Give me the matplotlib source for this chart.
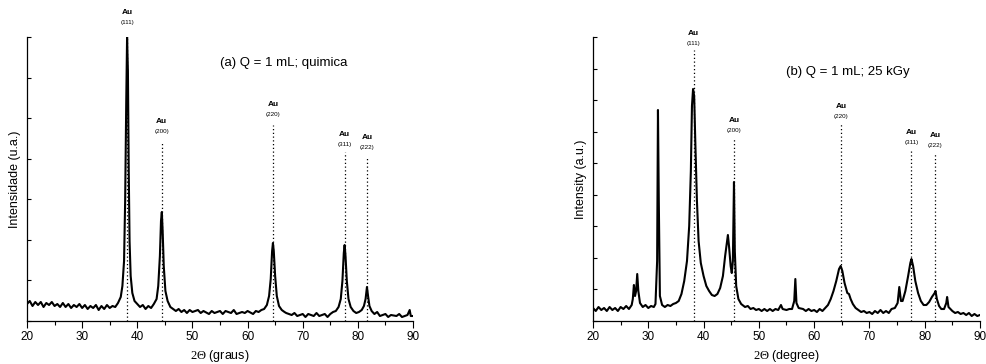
import matplotlib
matplotlib.use("Agg")
import matplotlib.pyplot as plt

plt.rcParams['font.family'] = ['Liberation Sans', 'DejaVu Sans']
plt.rcParams['mathtext.fontset'] = 'custom'
plt.rcParams['mathtext.rm'] = 'Liberation Serif'

# (a) chemical reduction - 2theta (deg) and intensity (a.u.)
x_a = [20, 20.5, 21, 21.5, 22, 22.5, 23, 23.5, 24, 24.5, 25, 25.5, 26, 26.5, 27, 27.5,
       28, 28.5, 29, 29.5, 30, 30.5, 31, 31.5, 32, 32.5, 33, 33.5, 34, 34.5, 35, 35.5,
       36, 36.5, 37, 37.3, 37.6, 37.8, 38.0, 38.15, 38.3, 38.45, 38.6, 38.8, 39.1, 39.5,
       40, 40.5, 41, 41.5, 42, 42.5, 43, 43.5, 43.8, 44.1, 44.3, 44.45, 44.6, 44.8, 45.1,
       45.5, 46, 46.5, 47, 47.5, 48, 48.5, 49, 49.5, 50, 51, 51.5, 52, 53, 53.5, 54, 55,
       55.5, 56, 57, 57.5, 58, 59, 59.5, 60, 61, 61.5, 62, 62.5, 63, 63.5, 63.9, 64.2,
       64.45, 64.6, 64.75, 65.0, 65.3, 65.7, 66.2, 66.7, 67, 68, 68.5, 69, 70, 70.5, 71,
       72, 72.5, 73, 74, 74.5, 75, 75.5, 76, 76.5, 76.9, 77.2, 77.45, 77.6, 77.75, 78.0,
       78.3, 78.7, 79.2, 79.7, 80.2, 80.7, 81.1, 81.4, 81.65, 81.85, 82.1, 82.5, 83, 83.5,
       84, 85, 85.5, 86, 87, 87.5, 88, 89, 89.4, 89.6, 90]
y_a = [17, 20, 15, 19, 16, 19, 14, 18, 16, 19, 15, 17, 14, 18, 14, 17,
       13, 16, 14, 17, 13, 16, 12, 15, 13, 16, 11, 15, 12, 16, 13, 15,
       14, 18, 24, 35, 60, 120, 220, 284, 250, 150, 80, 45, 28, 20,
       17, 14, 16, 12, 15, 13, 17, 22, 35, 65, 100, 109, 90, 55, 30,
       20, 14, 12, 10, 12, 9, 11, 8, 11, 9, 11, 8, 10, 7, 10, 8, 10,
       7, 10, 8, 11, 7, 9, 8, 10, 7, 10, 9, 11, 12, 16, 25, 42,
       70, 78, 70, 45, 25, 15, 11, 9, 8, 6, 8, 5, 7, 4, 7,
       5, 8, 5, 7, 4, 7, 9, 10, 14, 22, 40, 68, 76, 66, 40,
       22, 14, 10, 8, 9, 11, 15, 22, 34, 25, 15, 10, 7, 9,
       5, 7, 4, 6, 5, 7, 4, 6, 11, 5, 5]

# (b) 25 kGy irradiation
x_b = [20, 20.5, 21, 21.5, 22, 22.5, 23, 23.5, 24, 24.5, 25, 25.5, 26, 26.5, 27, 27.2,
       27.4, 27.6, 27.8, 28.0, 28.2, 28.5, 29, 29.5, 30, 30.5, 31, 31.3, 31.6, 31.75,
       31.9, 32.1, 32.5, 33, 33.5, 34, 34.5, 35, 35.5, 36, 36.5, 37, 37.4, 37.7, 37.9,
       38.1, 38.3, 38.5, 38.8, 39.1, 39.5, 40, 40.5, 41, 41.5, 42, 42.5, 43, 43.5, 43.9,
       44.2, 44.4, 44.6, 44.9, 45.1, 45.3, 45.5, 45.65, 45.9, 46.3, 46.8, 47.5, 48, 48.5,
       49, 49.5, 50, 50.5, 51, 51.5, 52, 52.5, 53, 53.5, 54, 54.3, 55, 55.5, 56, 56.4,
       56.6, 56.8, 57.2, 58, 58.5, 59, 59.5, 60, 60.5, 61, 61.5, 62, 62.5, 63, 63.5, 64,
       64.5, 64.8, 65.1, 65.5, 66, 66.3, 66.6, 67, 67.5, 68, 68.5, 69, 69.5, 70, 70.5,
       71, 71.5, 72, 72.5, 73, 73.5, 74, 74.6, 75.1, 75.4, 75.7, 76, 76.5, 77, 77.4,
       77.6, 77.9, 78.3, 78.8, 79.3, 79.8, 80.3, 80.8, 81.3, 81.8, 81.95, 82.2, 82.6,
       83, 83.5, 83.9, 84.05, 84.3, 85, 85.5, 86, 86.5, 87, 87.5, 88, 88.5, 89, 89.5, 90]
y_b = [13, 10, 14, 11, 13, 10, 14, 11, 13, 10, 14, 12, 15, 12, 16, 22,
       36, 25, 30, 47, 30, 18, 14, 16, 13, 15, 14, 17, 60, 211,
       120, 25, 16, 14, 16, 15, 17, 18, 20, 27, 40, 60, 95, 150, 215,
       232, 225, 180, 120, 80, 58, 45, 35, 30, 26, 25, 27, 33, 45, 65,
       78, 86, 75, 55, 48, 60, 139, 70, 35, 22, 17, 14, 15, 12,
       13, 11, 12, 10, 12, 10, 12, 10, 12, 11, 16, 12, 11, 12, 12, 20,
       42, 18, 13, 12, 10, 12, 10, 11, 9, 12, 10, 13, 16, 22, 30, 40,
       52, 55, 50, 38, 28, 27, 22, 17, 13, 11, 9, 10, 8, 9, 7,
       10, 8, 11, 8, 10, 8, 12, 13, 18, 34, 20, 20, 30, 45, 58,
       62, 55, 40, 28, 20, 16, 16, 19, 24, 28, 30, 22, 15,
       12, 12, 18, 24, 14, 10, 8, 9, 7, 8, 6, 8, 5, 7, 5, 6]

# Au reflections: position, hkl
peaks_a = [38.2, 44.4, 64.6, 77.6, 81.7]
peaks_b = [38.2, 45.5, 64.9, 77.6, 81.9]
hkl = ['(111)', '(200)', '(220)', '(311)', '(222)']
# top of dotted line and label heights (a.u.)
line_top_a = [284, 179, 196, 169, 163]
label_a = [296, 187, 204, 174, 171]
line_top_b = [271, 183, 197, 171, 168]
label_b = [275, 188, 202, 176, 173]

W, H = 987, 364
fig = plt.figure(figsize=(W / 100, H / 100), dpi=100)
ax1 = fig.add_axes([27 / W, 43 / H, 386 / W, 284 / H])
ax2 = fig.add_axes([593 / W, 43 / H, 387 / W, 284 / H])


def panel(ax, x, y, peaks, tops, labs, nticks, ylab, xlab, title, tx, ty):
    ax.plot(x, y, color='black', lw=1.5)
    for p, t, lb, h in zip(peaks, tops, labs, hkl):
        ax.plot([p, p], [0, t], color='black', lw=0.9, ls=(0, (1, 2)), clip_on=False)
        ax.text(p, lb, h, ha='center', va='bottom', fontsize=4.5)
        ax.text(p, lb + 9, 'Au', ha='center', va='bottom', fontsize=6, fontweight='bold')
    ax.set_xlim(20, 90)
    ax.set_ylim(0, 284)
    ax.set_xticks(range(20, 91, 10))
    ax.set_xticks(range(25, 90, 10), minor=True)
    ax.set_yticks([284 * i / nticks for i in range(nticks + 1)])
    ax.set_yticklabels([])
    ax.tick_params(axis='x', which='major', direction='out', length=5, width=0.8, labelsize=8.5, pad=2)
    ax.tick_params(axis='x', which='minor', direction='out', length=3, width=0.8)
    ax.tick_params(axis='y', direction='in', length=3, width=0.8)
    for s in ['top', 'right']:
        ax.spines[s].set_visible(False)
    for s in ['left', 'bottom']:
        ax.spines[s].set_linewidth(0.9)
    ax.set_ylabel(ylab, fontsize=9, labelpad=1)
    ax.set_xlabel(xlab, fontsize=9, labelpad=4)
    ax.text(tx, ty, title, fontsize=9.5, ha='center', va='center')


panel(ax1, x_a, y_a, peaks_a, line_top_a, label_a, 7, 'Intensidade (u.a.)',
      r'$\mathrm{2\Theta}$ (graus)', '(a) Q = 1 mL; quimica', 66.5, 258)
panel(ax2, x_b, y_b, peaks_b, line_top_b, label_b, 9, 'Intensity (a.u.)',
      r'$\mathrm{2\Theta}$ (degree)', '(b) Q = 1 mL; 25 kGy', 66.0, 249)

fig.savefig('out.png', dpi=100)
